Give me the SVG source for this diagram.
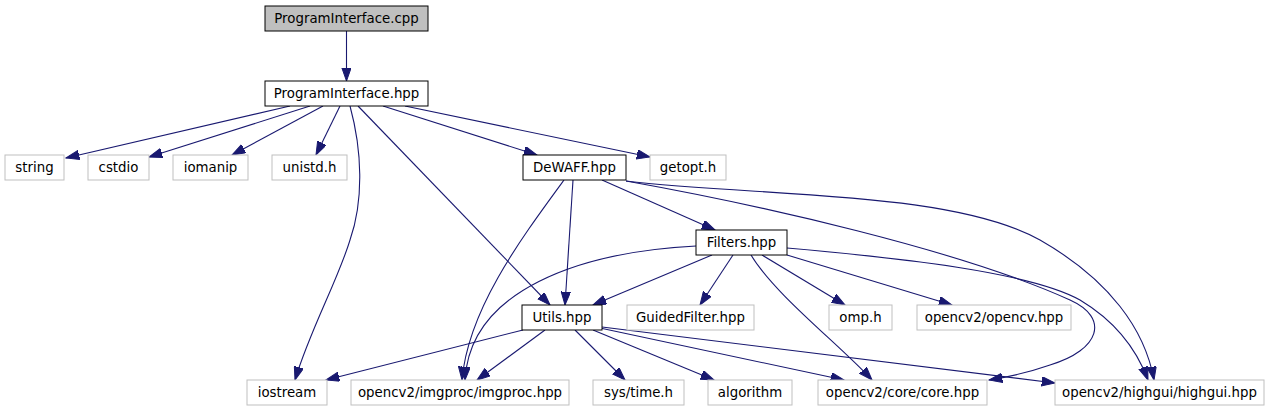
<svg xmlns="http://www.w3.org/2000/svg" width="1270" height="411" viewBox="0 0 1270 411">
<style>
.n rect{fill:#fff;stroke:#000;stroke-width:1}
.n.root rect{fill:#bfbfbf}
.n.ext rect{stroke:#bfbfbf}
.n text{font-family:"DejaVu Sans",sans-serif;font-size:13.33px;fill:#000;text-anchor:middle}
#edges path{fill:none;stroke:#191970;stroke-width:1.1;marker-end:url(#ah)}
</style>
<defs>
<marker id="ah" markerUnits="userSpaceOnUse" markerWidth="14" markerHeight="10" refX="13.3" refY="4.7" orient="auto" viewBox="0 0 14 10">
<path d="M0,0 L13.3,4.7 L0,9.4 Z" fill="#191970" stroke="#191970" stroke-width="1"/>
</marker>
</defs>
<rect width="1270" height="411" fill="#fff"/>
<g id="edges">
<path d="M346.5,31 L346.5,81"/>
<path d="M290,106 L66,158"/>
<path d="M310,106 L149,157"/>
<path d="M323,106 L232,155"/>
<path d="M340,106 L316,155"/>
<path d="M350,106 C362,150 364,200 350,240 C338,280 310,330 295,380"/>
<path d="M358,106 L550,305"/>
<path d="M383,106 L537,155"/>
<path d="M405,106 L650,157"/>
<path d="M573,180 L565,305"/>
<path d="M564,180 C520,240 468,310 462,380"/>
<path d="M602,180 L715,230"/>
<path d="M626,181 C760,205 960,250 1070,300 C1110,318 1100,350 1050,365 C1030,372 1008,377 989,380"/>
<path d="M626,181 C760,197 950,190 1040,240 C1110,280 1145,330 1154,380"/>
<path d="M696,246 C580,252 470,290 465,380"/>
<path d="M712,255 L593,305"/>
<path d="M733,255 L700,305"/>
<path d="M751,255 C775,295 840,345 872,380"/>
<path d="M762,255 L845,305"/>
<path d="M787,255 L952,305"/>
<path d="M787,248 C900,258 1030,272 1080,300 C1110,318 1135,345 1148,380"/>
<path d="M523,330 L326,380"/>
<path d="M545,330 L477,380"/>
<path d="M575,330 L625,380"/>
<path d="M593,330 L714,380"/>
<path d="M600,328 L844,380"/>
<path d="M602,327 L1055,383"/>
</g>
<g id="node-cpp" class="n root"><rect x="265" y="6" width="163" height="25"/><text x="346.5" y="23.2">ProgramInterface.cpp</text></g>
<g id="node-hpp" class="n"><rect x="265" y="81" width="163" height="25"/><text x="346.5" y="98.2">ProgramInterface.hpp</text></g>
<g id="node-string" class="n ext"><rect x="5" y="155" width="59" height="25"/><text x="34.5" y="172.2">string</text></g>
<g id="node-cstdio" class="n ext"><rect x="88" y="155" width="61" height="25"/><text x="118.5" y="172.2">cstdio</text></g>
<g id="node-iomanip" class="n ext"><rect x="173" y="155" width="75" height="25"/><text x="210.5" y="172.2">iomanip</text></g>
<g id="node-unistd" class="n ext"><rect x="272" y="155" width="75" height="25"/><text x="309.5" y="172.2">unistd.h</text></g>
<g id="node-dewaff" class="n"><rect x="523" y="155" width="103" height="25"/><text x="574.5" y="172.2">DeWAFF.hpp</text></g>
<g id="node-getopt" class="n ext"><rect x="650" y="155" width="76" height="25"/><text x="688" y="172.2">getopt.h</text></g>
<g id="node-filters" class="n"><rect x="696" y="230" width="91" height="25"/><text x="741.5" y="247.2">Filters.hpp</text></g>
<g id="node-utils" class="n"><rect x="522" y="305" width="80" height="25"/><text x="562" y="322.2">Utils.hpp</text></g>
<g id="node-guided" class="n ext"><rect x="627" y="305" width="127" height="25"/><text x="690.5" y="322.2">GuidedFilter.hpp</text></g>
<g id="node-omp" class="n ext"><rect x="829" y="305" width="63" height="25"/><text x="860.5" y="322.2">omp.h</text></g>
<g id="node-opencv" class="n ext"><rect x="917" y="305" width="154" height="25"/><text x="994" y="322.2">opencv2/opencv.hpp</text></g>
<g id="node-iostream" class="n ext"><rect x="247" y="380" width="80" height="25"/><text x="287" y="397.2">iostream</text></g>
<g id="node-imgproc" class="n ext"><rect x="351" y="380" width="218" height="25"/><text x="460" y="397.2">opencv2/imgproc/imgproc.hpp</text></g>
<g id="node-systime" class="n ext"><rect x="593" y="380" width="91" height="25"/><text x="638.5" y="397.2">sys/time.h</text></g>
<g id="node-algorithm" class="n ext"><rect x="708" y="380" width="84" height="25"/><text x="750" y="397.2">algorithm</text></g>
<g id="node-core" class="n ext"><rect x="818" y="380" width="169" height="25"/><text x="902.5" y="397.2">opencv2/core/core.hpp</text></g>
<g id="node-highgui" class="n ext"><rect x="1055" y="380" width="209" height="25"/><text x="1159.5" y="397.2">opencv2/highgui/highgui.hpp</text></g>
</svg>
